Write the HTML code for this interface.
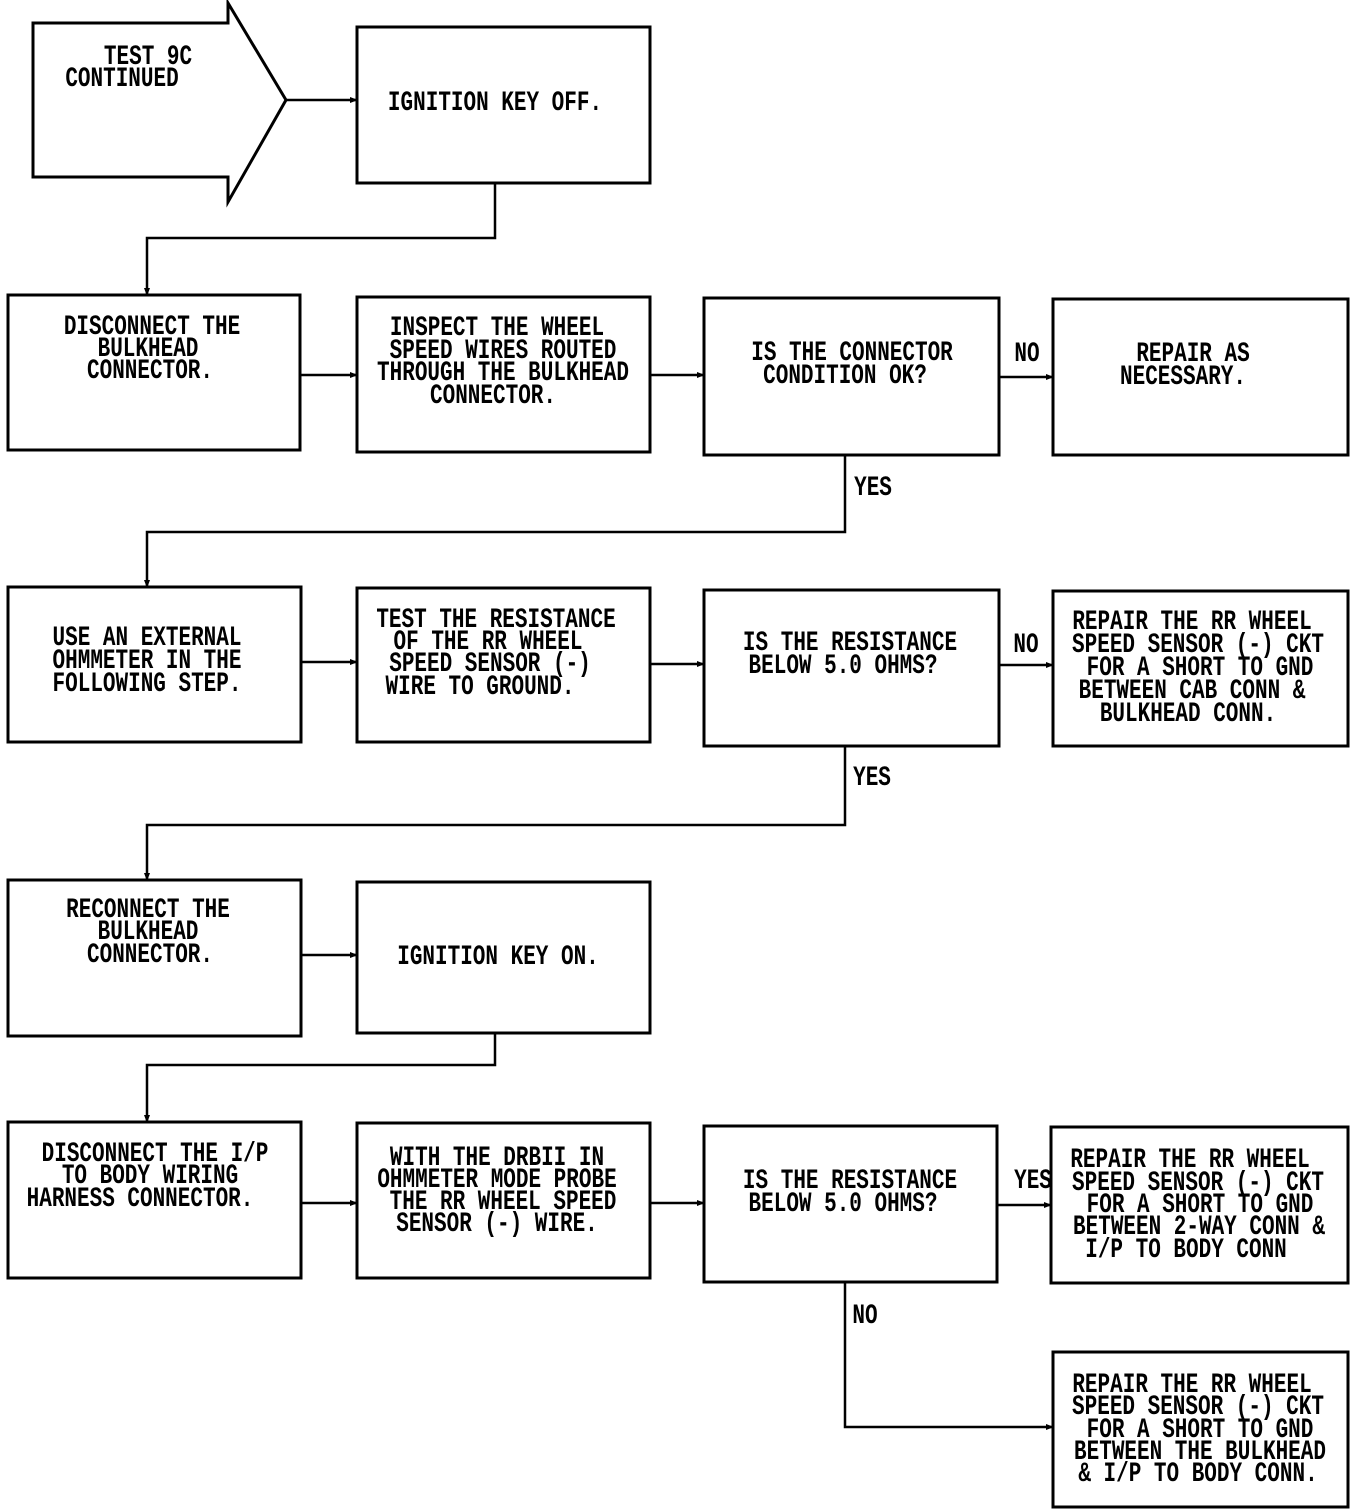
<!DOCTYPE html>
<html><head><meta charset="utf-8"><style>
html,body{margin:0;padding:0;background:#fff;}
svg{display:block}
text{font-family:"Liberation Mono",monospace;font-size:21px;font-weight:bold;fill:#000;text-anchor:middle}
</style></head><body>
<svg width="1360" height="1510" viewBox="0 0 1360 1510" xmlns="http://www.w3.org/2000/svg">
<defs><marker id="a" markerWidth="8" markerHeight="8" refX="7" refY="4" orient="auto" markerUnits="userSpaceOnUse"><path d="M0,1 L8,4 L0,7 z" fill="#000"/></marker></defs>
<g fill="none" stroke="#000" stroke-width="3">
<path d="M33,23 H228 V3 L286,100 L228,202 V177 H33 Z"/>
<rect x="357" y="27" width="293" height="156"/>
<rect x="8" y="295" width="292" height="155"/>
<rect x="357" y="297" width="293" height="155"/>
<rect x="704" y="298" width="295" height="157"/>
<rect x="1053" y="299" width="295" height="156"/>
<rect x="8" y="587" width="293" height="155"/>
<rect x="357" y="588" width="293" height="154"/>
<rect x="704" y="590" width="295" height="156"/>
<rect x="1053" y="591" width="295" height="155"/>
<rect x="8" y="880" width="293" height="156"/>
<rect x="357" y="882" width="293" height="151"/>
<rect x="8" y="1122" width="293" height="156"/>
<rect x="357" y="1123" width="293" height="155"/>
<rect x="704" y="1126" width="293" height="156"/>
<rect x="1051" y="1127" width="297" height="156"/>
<rect x="1053" y="1352" width="295" height="155"/>
</g>
<g fill="none" stroke="#000" stroke-width="2.5" marker-end="url(#a)">
<path d="M286,100 H357"/>
<path d="M495,183 V238 H147 V295"/>
<path d="M300,375 H357"/>
<path d="M650,375 H704"/>
<path d="M999,377 H1053"/>
<path d="M845,455 V532 H147 V587"/>
<path d="M301,662 H357"/>
<path d="M650,664 H704"/>
<path d="M999,665 H1053"/>
<path d="M845,746 V825 H147 V880"/>
<path d="M301,955 H357"/>
<path d="M495,1033 V1065 H147 V1122"/>
<path d="M301,1203 H357"/>
<path d="M650,1203 H704"/>
<path d="M997,1205 H1051"/>
<path d="M845,1282 V1427 H1053"/>
</g>
<g>
<text transform="translate(148 64) scale(1 1.3)">TEST 9C</text>
<text transform="translate(122 86) scale(1 1.3)">CONTINUED</text>
<text transform="translate(495 110) scale(1 1.3)">IGNITION KEY OFF.</text>

<text transform="translate(152 334) scale(1 1.3)">DISCONNECT THE</text>
<text transform="translate(148 356) scale(1 1.3)">BULKHEAD</text>
<text transform="translate(150 378) scale(1 1.3)">CONNECTOR.</text>
<text transform="translate(497 335) scale(1 1.3)">INSPECT THE WHEEL</text>
<text transform="translate(503 358) scale(1 1.3)">SPEED WIRES ROUTED</text>
<text transform="translate(503 380) scale(1 1.3)">THROUGH THE BULKHEAD</text>
<text transform="translate(493 403) scale(1 1.3)">CONNECTOR.</text>
<text transform="translate(852 360) scale(1 1.3)">IS THE CONNECTOR</text>
<text transform="translate(845 383) scale(1 1.3)">CONDITION OK?</text>
<text transform="translate(1193 361) scale(1 1.3)">REPAIR AS</text>
<text transform="translate(1183 384) scale(1 1.3)">NECESSARY.</text>
<text transform="translate(1027 361) scale(1 1.3)">NO</text>
<text transform="translate(873 495) scale(1 1.3)">YES</text>

<text transform="translate(147 645) scale(1 1.3)">USE AN EXTERNAL</text>
<text transform="translate(147 668) scale(1 1.3)">OHMMETER IN THE</text>
<text transform="translate(147 691) scale(1 1.3)">FOLLOWING STEP.</text>
<text transform="translate(496 627) scale(1 1.3)">TEST THE RESISTANCE</text>
<text transform="translate(488 649) scale(1 1.3)">OF THE RR WHEEL</text>
<text transform="translate(490 671) scale(1 1.3)">SPEED SENSOR (-)</text>
<text transform="translate(480 694) scale(1 1.3)">WIRE TO GROUND.</text>
<text transform="translate(850 650) scale(1 1.3)">IS THE RESISTANCE</text>
<text transform="translate(843 673) scale(1 1.3)">BELOW 5.0 OHMS?</text>
<text transform="translate(1026 652) scale(1 1.3)">NO</text>
<text transform="translate(1192 629) scale(1 1.3)">REPAIR THE RR WHEEL</text>
<text transform="translate(1198 652) scale(1 1.3)">SPEED SENSOR (-) CKT</text>
<text transform="translate(1200 675) scale(1 1.3)">FOR A SHORT TO GND</text>
<text transform="translate(1192 698) scale(1 1.3)">BETWEEN CAB CONN &amp;</text>
<text transform="translate(1188 721) scale(1 1.3)">BULKHEAD CONN.</text>
<text transform="translate(872 785) scale(1 1.3)">YES</text>

<text transform="translate(148 917) scale(1 1.3)">RECONNECT THE</text>
<text transform="translate(148 939) scale(1 1.3)">BULKHEAD</text>
<text transform="translate(150 962) scale(1 1.3)">CONNECTOR.</text>
<text transform="translate(498 964) scale(1 1.3)">IGNITION KEY ON.</text>

<text transform="translate(155 1161) scale(1 1.3)">DISCONNECT THE I/P</text>
<text transform="translate(150 1183) scale(1 1.3)">TO BODY WIRING</text>
<text transform="translate(140 1206) scale(1 1.3)">HARNESS CONNECTOR.</text>
<text transform="translate(497 1165) scale(1 1.3)">WITH THE DRBII IN</text>
<text transform="translate(497 1187) scale(1 1.3)">OHMMETER MODE PROBE</text>
<text transform="translate(503 1209) scale(1 1.3)">THE RR WHEEL SPEED</text>
<text transform="translate(497 1231) scale(1 1.3)">SENSOR (-) WIRE.</text>
<text transform="translate(850 1188) scale(1 1.3)">IS THE RESISTANCE</text>
<text transform="translate(843 1211) scale(1 1.3)">BELOW 5.0 OHMS?</text>
<text transform="translate(1033 1188) scale(1 1.3)">YES</text>
<text transform="translate(1190 1167) scale(1 1.3)">REPAIR THE RR WHEEL</text>
<text transform="translate(1198 1190) scale(1 1.3)">SPEED SENSOR (-) CKT</text>
<text transform="translate(1200 1212) scale(1 1.3)">FOR A SHORT TO GND</text>
<text transform="translate(1199 1234) scale(1 1.3)">BETWEEN 2-WAY CONN &amp;</text>
<text transform="translate(1186 1257) scale(1 1.3)">I/P TO BODY CONN</text>
<text transform="translate(865 1323) scale(1 1.3)">NO</text>
<text transform="translate(1192 1392) scale(1 1.3)">REPAIR THE RR WHEEL</text>
<text transform="translate(1198 1414) scale(1 1.3)">SPEED SENSOR (-) CKT</text>
<text transform="translate(1200 1437) scale(1 1.3)">FOR A SHORT TO GND</text>
<text transform="translate(1200 1459) scale(1 1.3)">BETWEEN THE BULKHEAD</text>
<text transform="translate(1198 1481) scale(1 1.3)">&amp; I/P TO BODY CONN.</text>
</g>
</svg>
</body></html>
